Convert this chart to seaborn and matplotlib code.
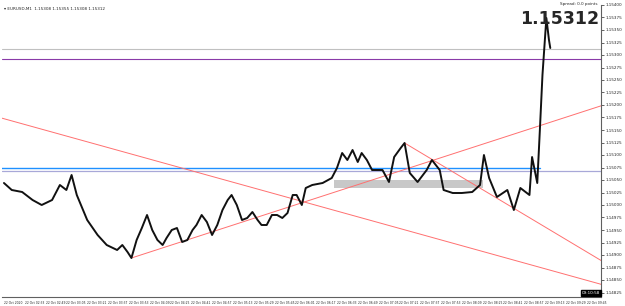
import numpy as np
import pandas as pd
import seaborn as sns
import matplotlib.pyplot as plt

# minutes after 02:17 and price
minutes = [0, 6, 14, 22, 29, 37, 43, 48, 52, 56, 64, 72, 79, 87, 91, 95, 98, 102,
           106, 110, 114, 118, 122, 125, 129, 133, 137, 141, 145, 148, 152, 156,
           160, 164, 168, 172, 175, 179, 183, 187, 191, 195, 198, 202, 206, 210,
           214, 218, 222, 225, 229, 232, 237, 245, 252, 256, 260, 264, 268, 272,
           275, 279, 283, 291, 296, 300, 305, 308, 312, 318, 325, 329, 335, 338,
           345, 352, 360, 366, 369, 373, 379, 387, 392, 397, 404, 406, 410, 412,
           414, 417, 419, 420]
price = [1.15044, 1.15030, 1.15026, 1.15010, 1.15000, 1.15010, 1.15040, 1.15030,
         1.15060, 1.15020, 1.14970, 1.14940, 1.14920, 1.14910, 1.14920, 1.14906,
         1.14894, 1.14930, 1.14954, 1.14980, 1.14950, 1.14930, 1.14920, 1.14934,
         1.14950, 1.14954, 1.14926, 1.14930, 1.14950, 1.14960, 1.14980, 1.14966,
         1.14940, 1.14960, 1.14990, 1.15010, 1.15020, 1.15000, 1.14970, 1.14974,
         1.14986, 1.14970, 1.14960, 1.14960, 1.14980, 1.14980, 1.14974, 1.14984,
         1.15020, 1.15020, 1.15000, 1.15034, 1.15040, 1.15044, 1.15054, 1.15074,
         1.15104, 1.15090, 1.15110, 1.15086, 1.15104, 1.15090, 1.15070, 1.15070,
         1.15046, 1.15096, 1.15114, 1.15124, 1.15064, 1.15046, 1.15070, 1.15090,
         1.15070, 1.15030, 1.15024, 1.15024, 1.15026, 1.15040, 1.15100, 1.15054,
         1.15016, 1.15030, 1.14990, 1.15034, 1.15020, 1.15096, 1.15044, 1.15150,
         1.15260, 1.15374, 1.15330, 1.15314]

# trend lines (start minute, start price, end minute, end price)
trend_lines = [(-2, 1.15174, 461, 1.14840),
               (98, 1.14894, 461, 1.15200),
               (308, 1.15124, 461, 1.14886)]
blue_level = 1.15074
lavender_level = 1.15068
bid_level = 1.15312
ask_level = 1.15292
zone = (254, 368, 1.15034, 1.15050)

y_ticks = [1.14825 + 0.00025 * i for i in range(24)]
x_ticks = list(range(0, 450, 16))
x_labels = ['22 Oct 2020'] + ['22 Oct %02d:%02d' % divmod(137 + m, 60) for m in x_ticks[1:]]

df = pd.DataFrame({'minute': minutes, 'price': price})

sns.set_style('white')
fig = plt.figure(figsize=(6.25, 3.06), dpi=100)
ax = fig.add_axes([2 / 625, 9 / 306, 599 / 625, 292 / 306])

ax.axhline(bid_level, color='#c0c0c0', lw=0.8)
ax.axhline(ask_level, color='#8a3aa8', lw=0.8)
ax.axhline(lavender_level, color='#a8a8d8', lw=0.9)
ax.plot([-2, 412], [blue_level, blue_level], color='#1e90ff', lw=1.0)
ax.fill_between([zone[0], zone[1]], zone[2], zone[3], color='#c8c8c8', lw=0)
for x0, y0, x1, y1 in trend_lines:
    ax.plot([x0, x1], [y0, y1], color='#ff7070', lw=0.7)

sns.lineplot(data=df, x='minute', y='price', color='#111111', lw=1.4, ax=ax)

ax.set_xlim(-1.5, 459)
ax.set_ylim(1.14816, 1.15400)
ax.yaxis.tick_right()
ax.set_yticks(y_ticks)
ax.set_yticklabels(['%.5f' % v for v in y_ticks], fontsize=3.0)
ax.set_xticks(x_ticks)
ax.set_xticklabels(x_labels, fontsize=2.2, ha='left')
ax.tick_params(length=2, width=0.5, pad=1)
ax.set_xlabel('')
ax.set_ylabel('')
for s in ['top', 'left']:
    ax.spines[s].set_visible(False)
for s in ['right', 'bottom']:
    ax.spines[s].set_color('#606060')
    ax.spines[s].set_linewidth(0.8)

fig.text(4 / 625, 1 - 9 / 306, '\u25be EURUSD,M1  1.15308 1.15355 1.15308 1.15312',
         fontsize=3.0, va='center')
fig.text(598 / 625, 1 - 4 / 306, 'Spread: 0.0 points', fontsize=3.0, ha='right', va='center')
fig.text(599 / 625, 1 - 19 / 306, '1.15312', fontsize=12.5, fontweight='bold', ha='right', va='center')
fig.text(600 / 625, 1 - 293 / 306, '09:10:58', fontsize=3.0, color='white', ha='right', va='center',
         bbox=dict(facecolor='black', edgecolor='black', pad=0.8))

fig.savefig('out.png', dpi=100)
